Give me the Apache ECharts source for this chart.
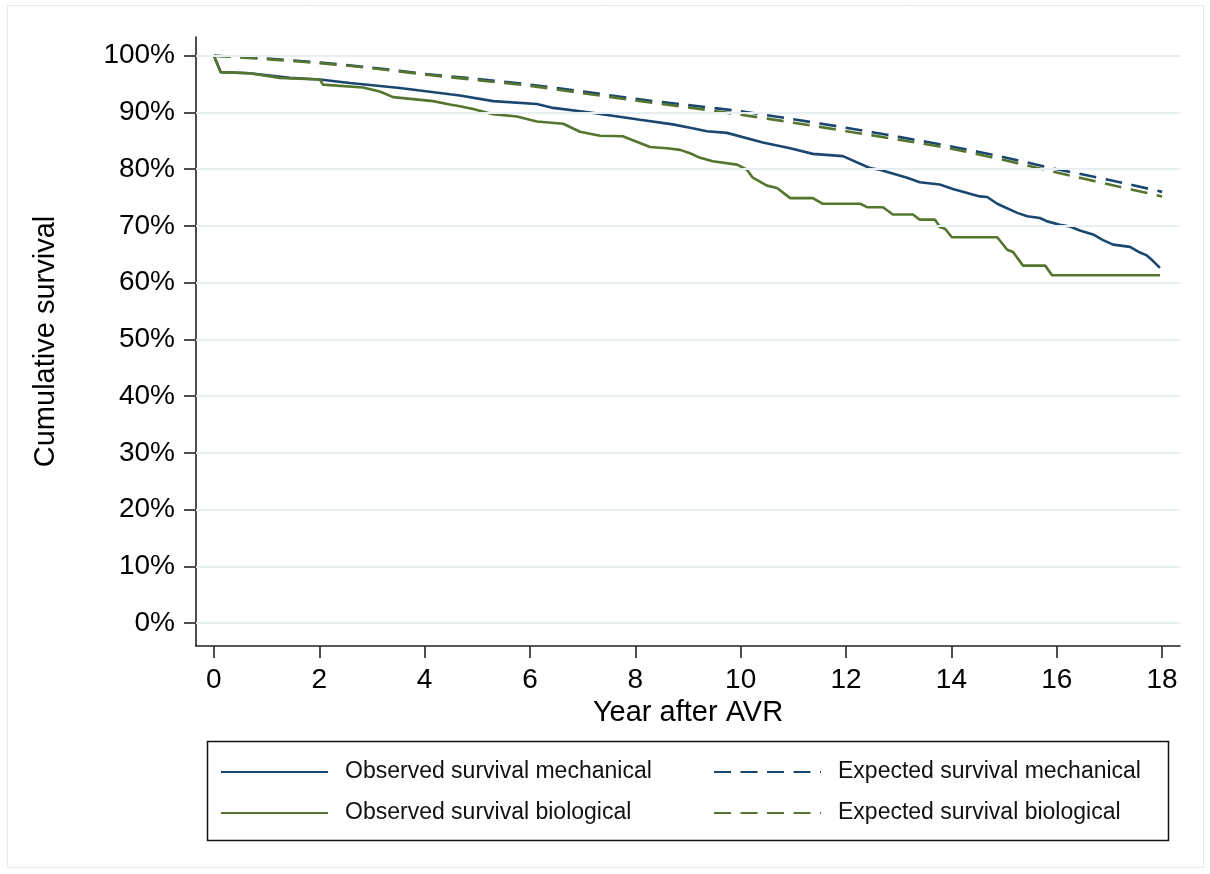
<!DOCTYPE html>
<html>
<head>
<meta charset="utf-8">
<script src="https://cdn.jsdelivr.net/npm/echarts@6/dist/echarts.min.js"></script>
<style>
  html, body { margin: 0; padding: 0; background: #ffffff; }
  #chart { width: 1210px; height: 874px; }
</style>
</head>
<body>
<div id="chart"></div>
<script>
// Axis ticks
const yearTicks = [0, 2, 4, 6, 8, 10, 12, 14, 16, 18];
const pctTicks = [0, 10, 20, 30, 40, 50, 60, 70, 80, 90, 100];

// Observed (Kaplan-Meier) survival, mechanical valves
const obsMechYears = [0, 0.13, 0.68, 1.44, 2.01, 2.58, 3.53, 4.48, 4.67, 5.30, 6.13, 6.44, 7.14, 8.09, 8.71, 9.04, 9.36, 9.74, 10.42, 10.94, 11.37, 11.94, 12.45, 12.64, 13.16, 13.40, 13.78, 14.03, 14.54, 14.68, 14.87, 15.25, 15.44, 15.68, 15.82, 16.06, 16.25, 16.44, 16.69, 16.88, 17.07, 17.39, 17.58, 17.71, 17.83, 17.96];
const obsMechSurv  = [100, 97.1, 96.9, 96.1, 95.8, 95.2, 94.3, 93.2, 93.0, 92.0, 91.5, 90.8, 90.0, 88.7, 87.9, 87.3, 86.7, 86.4, 84.7, 83.7, 82.7, 82.3, 80.2, 79.9, 78.5, 77.7, 77.3, 76.5, 75.2, 75.1, 73.9, 72.3, 71.7, 71.4, 70.8, 70.2, 69.9, 69.2, 68.5, 67.5, 66.7, 66.3, 65.3, 64.8, 63.8, 62.6];

// Observed (Kaplan-Meier) survival, biological valves
const obsBioYears = [0, 0.13, 0.68, 1.25, 2.01, 2.07, 2.83, 3.15, 3.40, 4.16, 4.48, 4.67, 4.92, 5.30, 5.75, 6.13, 6.63, 6.95, 7.33, 7.76, 8.28, 8.60, 8.85, 9.04, 9.23, 9.47, 9.93, 10.12, 10.23, 10.50, 10.69, 10.94, 11.37, 11.56, 12.27, 12.40, 12.70, 12.89, 13.27, 13.40, 13.69, 13.78, 13.88, 14.01, 14.87, 15.06, 15.17, 15.36, 15.78, 15.91, 17.96];
const obsBioSurv  = [100, 97.1, 96.9, 96.1, 95.8, 94.9, 94.4, 93.7, 92.7, 92.0, 91.4, 91.1, 90.6, 89.7, 89.3, 88.4, 88.0, 86.6, 85.9, 85.8, 83.9, 83.7, 83.4, 82.8, 82.0, 81.4, 80.8, 79.9, 78.5, 77.1, 76.7, 74.9, 74.9, 73.9, 73.9, 73.3, 73.3, 72.0, 72.0, 71.1, 71.1, 69.8, 69.5, 68.0, 68.0, 65.8, 65.4, 63.0, 63.0, 61.3, 61.3];

// Expected survival of the matched general population
const expYears    = [0, 1, 2, 3, 4, 5, 6, 7, 8, 9, 10, 11, 12, 13, 14, 15, 16, 17, 18];
const expMechSurv = [100, 99.5, 98.8, 97.9, 96.8, 95.9, 94.9, 93.7, 92.4, 91.3, 90.2, 88.8, 87.3, 85.7, 84.0, 82.1, 80.0, 78.1, 76.0];
const expBioSurv  = [100, 99.4, 98.7, 97.8, 96.7, 95.7, 94.7, 93.4, 92.1, 90.9, 89.6, 88.2, 86.7, 85.2, 83.6, 81.6, 79.4, 77.3, 75.2];

const NAVY = '#1a476f';
const GREEN = '#55752f';
const FONT = 'Liberation Sans, Arial, Helvetica, sans-serif';
const DASH = [17, 9.5];
const LINE_W = 2.6;

const zip = (xs, ys) => xs.map((x, i) => [x, ys[i]]);

const chart = echarts.init(document.getElementById('chart'), null, { renderer: 'canvas' });

const legendText = { fontSize: 23, fontFamily: FONT, color: '#111', lineHeight: 28, padding: [0, 0, 0, 12] };
const legendBase = {
  orient: 'vertical', top: 758, padding: 0,
  itemWidth: 107, itemHeight: 14, itemGap: 13,
  itemStyle: { opacity: 0 },
  selectedMode: false, textStyle: legendText
};

chart.setOption({
  animation: false,
  backgroundColor: '#ffffff',
  grid: { left: 196, top: 37, width: 984, height: 609, containLabel: false },
  xAxis: {
    type: 'value',
    min: -0.34, max: 18.34,
    name: 'Year after AVR',
    nameLocation: 'middle',
    nameGap: 52,
    nameTextStyle: { fontSize: 29, fontFamily: FONT, color: '#000' },
    axisLine: { show: true, onZero: false, lineStyle: { color: '#222', width: 1.6 } },
    axisTick: { show: true, length: 12, lineStyle: { color: '#222', width: 1.6 }, customValues: yearTicks },
    axisLabel: { margin: 20, fontSize: 28, fontFamily: FONT, color: '#000', customValues: yearTicks },
    splitLine: { show: false }
  },
  yAxis: {
    type: 'value',
    min: -4.05, max: 103.3,
    name: 'Cumulative survival',
    nameLocation: 'middle',
    nameGap: 136,
    nameRotate: 90,
    nameTextStyle: { fontSize: 29, fontFamily: FONT, color: '#000' },
    axisLine: { show: true, onZero: false, lineStyle: { color: '#222', width: 1.6 } },
    axisTick: { show: true, length: 12, lineStyle: { color: '#222', width: 1.6 }, customValues: pctTicks },
    axisLabel: { margin: 21, fontSize: 28, fontFamily: FONT, color: '#000', customValues: pctTicks, formatter: v => v + '%' },
    splitLine: { show: false }
  },
  legend: [
    Object.assign({ left: 220, data: ['Observed survival mechanical', 'Observed survival biological'] }, legendBase),
    Object.assign({ left: 713, data: ['Expected survival mechanical', 'Expected survival biological'] }, legendBase)
  ],
  graphic: [
    { type: 'rect', z: 0, shape: { x: 7.5, y: 5.5, width: 1196, height: 862 },
      style: { fill: 'none', stroke: '#e8e8e8', lineWidth: 1 } },
    { type: 'rect', z: 0, shape: { x: 207.5, y: 741.5, width: 961, height: 99 },
      style: { fill: 'none', stroke: '#111', lineWidth: 1.5 } }
  ],
  series: [
    {
      name: 'gridlines', type: 'line', data: [], z: 1, silent: true,
      markLine: {
        silent: true, symbol: ['none', 'none'], label: { show: false },
        lineStyle: { color: '#e7eff2', width: 2, type: 'solid' },
        emphasis: { disabled: true },
        data: pctTicks.map(v => ({ yAxis: v }))
      }
    },
    {
      name: 'Observed survival mechanical', type: 'line', showSymbol: false, symbol: 'none',
      data: zip(obsMechYears, obsMechSurv),
      lineStyle: { color: NAVY, width: LINE_W }, itemStyle: { color: NAVY }, z: 3
    },
    {
      name: 'Expected survival mechanical', type: 'line', showSymbol: false, symbol: 'none', smooth: 0.3,
      data: zip(expYears, expMechSurv),
      lineStyle: { color: NAVY, width: LINE_W, type: DASH }, itemStyle: { color: NAVY }, z: 3
    },
    {
      name: 'Observed survival biological', type: 'line', showSymbol: false, symbol: 'none',
      data: zip(obsBioYears, obsBioSurv),
      lineStyle: { color: GREEN, width: LINE_W }, itemStyle: { color: GREEN }, z: 3
    },
    {
      name: 'Expected survival biological', type: 'line', showSymbol: false, symbol: 'none', smooth: 0.3,
      data: zip(expYears, expBioSurv),
      lineStyle: { color: GREEN, width: LINE_W, type: DASH }, itemStyle: { color: GREEN }, z: 3
    }
  ]
});
</script>
</body>
</html>
